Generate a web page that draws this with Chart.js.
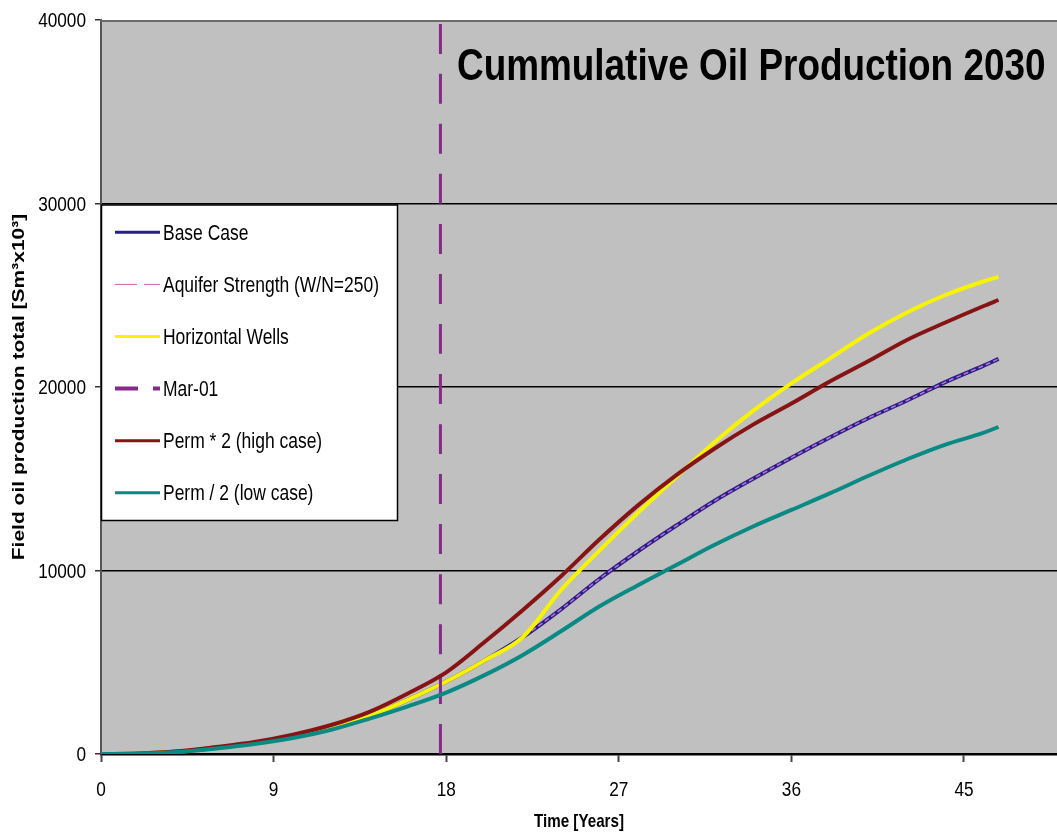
<!DOCTYPE html>
<html>
<head>
<meta charset="utf-8">
<title>Cummulative Oil Production 2030</title>
<script src="https://cdn.jsdelivr.net/npm/chart.js@4.4.1/dist/chart.umd.min.js"></script>
<style>
  html, body { margin: 0; padding: 0; background: #ffffff; }
  canvas { display: block; }
</style>
</head>
<body>
<canvas id="oilChart" width="1057" height="832"></canvas>
<script>
// Simulation time axis (years)
const years = [0, 2, 4, 6, 8, 10, 12, 14, 16, 18, 20, 22, 24, 26, 28, 30, 32, 34, 36, 38, 40, 42, 44, 46, 46.8];

// Field oil production total [Sm3 x 10^3] per scenario
const baseCase   = [0, 25, 130, 340, 600, 960, 1430, 2080, 2950, 3950, 5100, 6380, 7900, 9550, 11050, 12450, 13800, 15000, 16150, 17250, 18300, 19250, 20250, 21150, 21530];
const aquifer250 = [0, 25, 130, 340, 600, 960, 1430, 2080, 2950, 3950, 5100, 6380, 7900, 9550, 11050, 12450, 13800, 15000, 16150, 17250, 18300, 19250, 20250, 21150, 21530];
const horizontal = [0, 25, 130, 340, 600, 960, 1430, 2080, 2950, 3950, 5100, 6380, 8950, 11100, 13150, 15100, 17000, 18700, 20200, 21550, 22900, 24050, 25000, 25750, 26000];
const permHigh   = [0, 30, 150, 380, 650, 1050, 1580, 2300, 3300, 4450, 6100, 7850, 9700, 11700, 13550, 15200, 16650, 17950, 19100, 20300, 21400, 22550, 23500, 24400, 24740];
const permLow    = [0, 20, 110, 300, 540, 870, 1320, 1930, 2600, 3350, 4300, 5400, 6700, 8050, 9200, 10300, 11400, 12400, 13300, 14200, 15150, 16050, 16850, 17500, 17820];

// Marker line for the March 2001 start date
const marchX = [17.7, 17.7];
const marchY = [0, 40000];

// Axis ticks
const xTicks = [0, 9, 18, 27, 36, 45];
const yTicks = [0, 10000, 20000, 30000, 40000];
const yGridValues = [10000, 20000, 30000];

// Texts
const chartTitle = 'Cummulative Oil Production 2030';
const xTitle = 'Time [Years]';
const yTitle = 'Field oil production total [Sm\u00B3x10\u00B3]';
const seriesNames = ['Base Case', 'Aquifer Strength (W/N=250)', 'Horizontal Wells', 'Mar-01', 'Perm * 2 (high case)', 'Perm / 2 (low case)'];

const toPoints = (xs, ys) => xs.map((x, i) => ({ x: x, y: ys[i] }));

// Condensed text: regular sans face squeezed horizontally
const FACE = "'Liberation Sans', Arial, sans-serif";
function condensedText(ctx, text, x, y, font, align, squeeze, rotate) {
  ctx.save();
  ctx.translate(x, y);
  ctx.scale(squeeze, 1);
  if (rotate) ctx.rotate(-Math.PI / 2);
  ctx.font = font;
  ctx.textAlign = align;
  ctx.textBaseline = 'alphabetic';
  ctx.fillStyle = '#000000';
  ctx.fillText(text, 0, 0);
  ctx.restore();
}

const framePlugin = {
  id: 'frame',
  beforeDraw(chart) {
    const { ctx, chartArea: a } = chart;
    ctx.save();
    ctx.fillStyle = '#c0c0c0';
    ctx.fillRect(a.left, a.top, a.right - a.left, a.bottom - a.top);
    ctx.restore();
  },
  afterDraw(chart) {
    const { ctx, chartArea: a } = chart;
    const xs = chart.scales.x, ys = chart.scales.y;

    // top edge of the plot area
    ctx.save();
    ctx.strokeStyle = '#6a6a6a';
    ctx.lineWidth = 2;
    ctx.beginPath();
    ctx.moveTo(a.left, a.top + 1);
    ctx.lineTo(a.right, a.top + 1);
    ctx.stroke();
    ctx.restore();

    // tick labels, condensed
    const tickFont = '20px ' + FACE;
    xTicks.forEach(v => condensedText(ctx, String(v), xs.getPixelForValue(v), 796, tickFont, 'center', 0.86, false));
    yTicks.forEach(v => condensedText(ctx, String(v), 86, ys.getPixelForValue(v) + 7, tickFont, 'right', 0.86, false));

    // chart title inside the plot
    condensedText(ctx, chartTitle, 457, 80, 'bold 45px ' + FACE, 'left', 0.82, false);

    // axis titles
    condensedText(ctx, xTitle, (a.left + a.right) / 2, 827, 'bold 18.5px ' + FACE, 'center', 0.82, false);
    condensedText(ctx, yTitle, 24, (a.top + a.bottom) / 2, 'bold 21px ' + FACE, 'center', 0.82, true);

    // legend box
    const box = { l: 101.5, t: 205, r: 397.5, b: 520.5 };
    ctx.save();
    ctx.fillStyle = '#ffffff';
    ctx.fillRect(box.l, box.t, box.r - box.l, box.b - box.t);
    ctx.strokeStyle = '#000000';
    ctx.lineWidth = 1.5;
    ctx.strokeRect(box.l, box.t, box.r - box.l, box.b - box.t);
    ctx.restore();

    chart.data.datasets.forEach((ds, i) => {
      const y = 232.3 + i * 52.1;
      ctx.save();
      ctx.strokeStyle = ds.legendColor || ds.borderColor;
      ctx.lineWidth = ds.legendWidth || ds.borderWidth;
      ctx.setLineDash(ds.legendDash || []);
      ctx.beginPath();
      ctx.moveTo(115, y);
      ctx.lineTo(160, y);
      ctx.stroke();
      ctx.restore();
      condensedText(ctx, ds.label, 163, y + 7.5, '21.3px ' + FACE, 'left', 0.82, false);
    });
  }
};

new Chart(document.getElementById('oilChart'), {
  type: 'line',
  data: {
    datasets: [
      { label: seriesNames[0], data: toPoints(years, baseCase), borderColor: '#2a1f86', borderWidth: 4, legendWidth: 3, order: 6 },
      { label: seriesNames[1], data: toPoints(years, aquifer250), borderColor: '#c070d8', borderWidth: 1.5, borderDash: [5, 3], legendColor: '#d060b0', legendDash: [22, 7], legendWidth: 1, order: 5 },
      { label: seriesNames[2], data: toPoints(years, horizontal), borderColor: '#f8f400', borderWidth: 4, legendWidth: 3, order: 4 },
      { label: seriesNames[3], data: toPoints(marchX, marchY), borderColor: '#852a8a', borderWidth: 3, borderDash: [30, 20], legendDash: [23, 15], legendWidth: 4, order: 3 },
      { label: seriesNames[4], data: toPoints(years, permHigh), borderColor: '#861414', borderWidth: 4, legendWidth: 3, order: 2 },
      { label: seriesNames[5], data: toPoints(years, permLow), borderColor: '#0a8a84', borderWidth: 4, legendWidth: 3, order: 1 }
    ]
  },
  options: {
    responsive: false,
    animation: false,
    devicePixelRatio: 1,
    layout: { padding: { top: 20, left: 0, right: 0, bottom: 0 } },
    elements: {
      point: { radius: 0, hoverRadius: 0 },
      line: { cubicInterpolationMode: 'monotone', fill: false, borderCapStyle: 'butt' }
    },
    plugins: {
      legend: { display: false },
      tooltip: { enabled: false },
      title: { display: false }
    },
    events: [],
    scales: {
      x: {
        type: 'linear',
        min: 0,
        max: 49.85,
        afterBuildTicks: s => { s.ticks = xTicks.map(v => ({ value: v })); },
        afterFit: s => { s.height = 78; },
        ticks: { display: false },
        grid: { drawOnChartArea: false, drawTicks: true, tickLength: 8, tickColor: '#444444', tickWidth: 2 },
        border: { color: '#000000', width: 2.5 }
      },
      y: {
        type: 'linear',
        min: 0,
        max: 40000,
        afterBuildTicks: s => { s.ticks = yTicks.map(v => ({ value: v })); },
        afterFit: s => { s.width = 101; },
        ticks: { display: false },
        grid: {
          color: c => (c.tick && yGridValues.includes(c.tick.value)) ? '#000000' : 'rgba(0,0,0,0)',
          lineWidth: 1.5,
          drawTicks: true,
          tickLength: 6,
          tickColor: '#333333',
          tickWidth: 1.5
        },
        border: { color: '#555555', width: 2 }
      }
    }
  },
  plugins: [framePlugin]
});
</script>
</body>
</html>
